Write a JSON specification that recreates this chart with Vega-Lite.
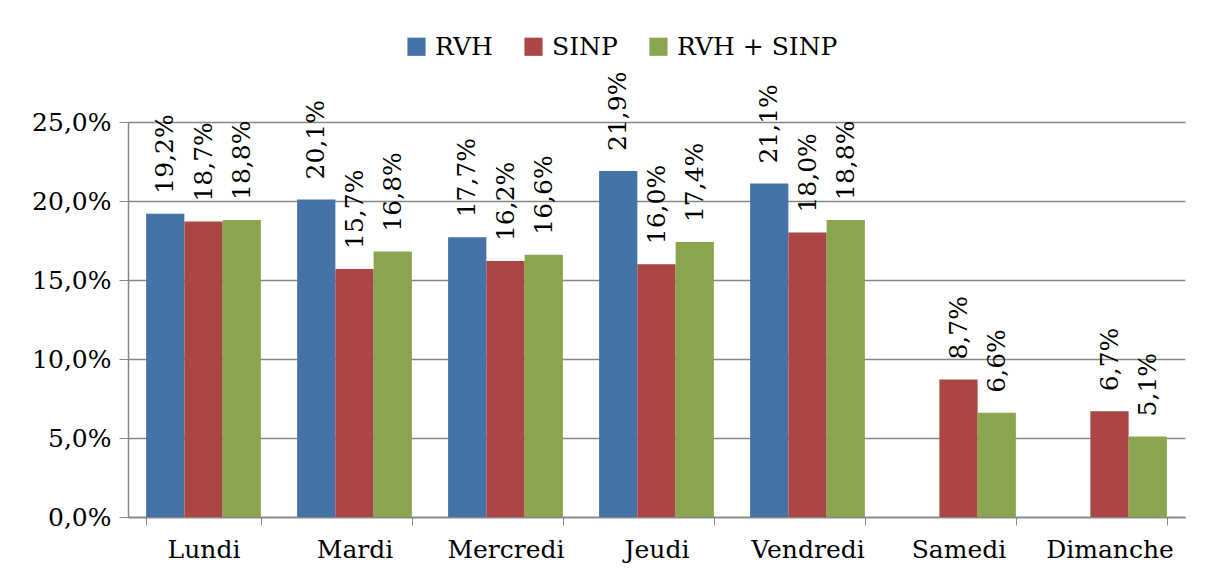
{
  "$schema": "https://vega.github.io/schema/vega-lite/v6.json",
  "width": 1057,
  "height": 395,
  "autosize": {"type": "none"},
  "padding": {"left": 128, "top": 122, "right": 21, "bottom": 71},
  "background": "white",
  "config": {
    "locale": {"number": {"decimal": ",", "thousands": " ", "grouping": [3], "currency": ["", " €"]}},
    "font": "DejaVu Serif",
    "view": {"stroke": null}
  },
  "data": {
    "values": [
      {"jour": "Lundi", "serie": "RVH", "valeur": 0.192},
      {"jour": "Lundi", "serie": "SINP", "valeur": 0.187},
      {"jour": "Lundi", "serie": "RVH + SINP", "valeur": 0.188},
      {"jour": "Mardi", "serie": "RVH", "valeur": 0.201},
      {"jour": "Mardi", "serie": "SINP", "valeur": 0.157},
      {"jour": "Mardi", "serie": "RVH + SINP", "valeur": 0.168},
      {"jour": "Mercredi", "serie": "RVH", "valeur": 0.177},
      {"jour": "Mercredi", "serie": "SINP", "valeur": 0.162},
      {"jour": "Mercredi", "serie": "RVH + SINP", "valeur": 0.166},
      {"jour": "Jeudi", "serie": "RVH", "valeur": 0.219},
      {"jour": "Jeudi", "serie": "SINP", "valeur": 0.160},
      {"jour": "Jeudi", "serie": "RVH + SINP", "valeur": 0.174},
      {"jour": "Vendredi", "serie": "RVH", "valeur": 0.211},
      {"jour": "Vendredi", "serie": "SINP", "valeur": 0.180},
      {"jour": "Vendredi", "serie": "RVH + SINP", "valeur": 0.188},
      {"jour": "Samedi", "serie": "SINP", "valeur": 0.087},
      {"jour": "Samedi", "serie": "RVH + SINP", "valeur": 0.066},
      {"jour": "Dimanche", "serie": "SINP", "valeur": 0.067},
      {"jour": "Dimanche", "serie": "RVH + SINP", "valeur": 0.051}
    ]
  },
  "encoding": {
    "x": {
      "field": "jour",
      "type": "nominal",
      "sort": ["Lundi", "Mardi", "Mercredi", "Jeudi", "Vendredi", "Samedi", "Dimanche"],
      "scale": {"paddingInner": 0.24, "paddingOuter": 0.12},
      "axis": {
        "title": null,
        "labelAngle": 0,
        "labelFont": "DejaVu Serif",
        "labelFontSize": 25,
        "labelColor": "black",
        "labelPadding": 12,
        "labelLimit": 0,
        "tickBand": "extent",
        "tickSize": 8,
        "tickColor": "#868686",
        "domainColor": "#868686",
        "domainWidth": 1.5,
        "grid": false
      }
    },
    "xOffset": {
      "field": "serie",
      "type": "nominal",
      "scale": {"domain": ["RVH", "SINP", "RVH + SINP"], "paddingInner": 0, "paddingOuter": 0}
    },
    "y": {
      "field": "valeur",
      "type": "quantitative",
      "scale": {"domain": [0, 0.25], "nice": false},
      "axis": {
        "title": null,
        "format": ".1%",
        "values": [0, 0.05, 0.1, 0.15, 0.2, 0.25],
        "labelFont": "DejaVu Serif",
        "labelFontSize": 25,
        "labelColor": "black",
        "labelPadding": 8,
        "tickSize": 9,
        "tickColor": "#868686",
        "domainColor": "#868686",
        "domainWidth": 1.5,
        "gridColor": "#868686",
        "gridWidth": 1.5
      }
    }
  },
  "layer": [
    {
      "mark": {"type": "bar"},
      "encoding": {
        "color": {
          "field": "serie",
          "type": "nominal",
          "scale": {"domain": ["RVH", "SINP", "RVH + SINP"], "range": ["#4572A7", "#AA4643", "#89A54E"]},
          "legend": {
            "title": null,
            "orient": "none",
            "legendX": 276,
            "legendY": -88,
            "direction": "horizontal",
            "symbolType": "square",
            "symbolSize": 330,
            "symbolStrokeWidth": 0,
            "labelFont": "DejaVu Serif",
            "labelFontSize": 25,
            "labelColor": "black",
            "labelLimit": 0,
            "columnPadding": 28,
            "labelOffset": 6
          }
        }
      }
    },
    {
      "mark": {"type": "text", "angle": -90, "align": "left", "baseline": "middle", "dx": 20, "font": "DejaVu Serif", "fontSize": 25, "color": "black"},
      "encoding": {
        "text": {"field": "valeur", "type": "quantitative", "format": ".1%"}
      }
    }
  ]
}
